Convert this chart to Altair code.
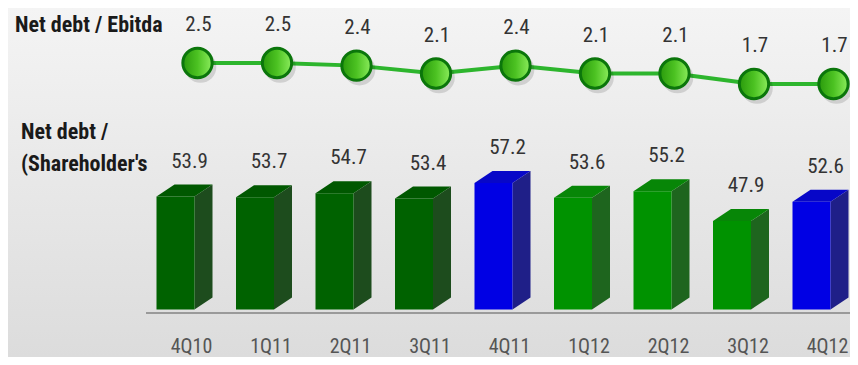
import altair as alt
import pandas as pd

# ---- data ----
categories = ["4Q10", "1Q11", "2Q11", "3Q11", "4Q11", "1Q12", "2Q12", "3Q12", "4Q12"]
net_debt_ebitda = [2.5, 2.5, 2.4, 2.1, 2.4, 2.1, 2.1, 1.7, 1.7]
net_debt_equity = [53.9, 53.7, 54.7, 53.4, 57.2, 53.6, 55.2, 47.9, 52.6]
bar_groups = ["a", "a", "a", "a", "b", "c", "c", "c", "b"]
titles = ["Net debt / Ebitda", "Net debt /", "(Shareholder's"]

# ---- geometry / style constants ----
W, H = 842, 349
X0 = 183.5
K = 79.5           # px per category
PXV = 4.1          # px per unit of the bar scale
BASE = 26.34       # bar scale floor
FL, FR, SR = -35 / K, 3 / K, 21 / K
DY = 12 / PXV
FONT = "Roboto Condensed, Open Sans Condensed, Liberation Sans Narrow, Roboto, sans-serif"

xs = alt.Scale(domain=[0, 8], range=[X0, X0 + 8 * K], nice=False, zero=False)
ybar = alt.Scale(domain=[BASE, 60], range=[301.5, 301.5 - (60 - BASE) * PXV], nice=False, zero=False)
yline = alt.Scale(domain=[1, 3], range=[55 + 1.5 * 26.25, 55 - 0.5 * 26.25], nice=False, zero=False)

grp_dom = ["a", "b", "c"]
front_cols = ["#006200", "#0000e4", "#009200"]
side_cols = ["#1d4c1d", "#1f1f88", "#1e651e"]
top_cols = ["#005800", "#0707c8", "#078607"]

idx = list(range(len(categories)))
df = pd.DataFrame({
    "cat": categories,
    "i": idx,
    "ratio": net_debt_ebitda,
    "nd": net_debt_equity,
    "grp": bar_groups,
})
df["fl"] = df["i"] + FL
df["fr"] = df["i"] + FR
df["base"] = BASE
df["lx"] = df["i"] + 6 / K
df["tx"] = df["i"] + 7 / K
df["bx"] = df["i"] - 2 / K
df["nd_txt"] = [f"{v:.1f}" for v in net_debt_equity]
df["r_txt"] = [f"{v:.1f}" for v in net_debt_ebitda]

side_rows, top_rows = [], []
for c, i, v, g in zip(categories, idx, net_debt_equity, bar_groups):
    side_rows.append({"c": c, "g": g, "x": i + FR, "y": v, "y2": BASE})
    side_rows.append({"c": c, "g": g, "x": i + SR, "y": v + DY, "y2": BASE + DY})
    top_rows.append({"c": c, "g": g, "y": v, "x": i + FL, "x2": i + FR})
    top_rows.append({"c": c, "g": g, "y": v + DY, "x": i + FL + (SR - FR), "x2": i + SR})
side_df = pd.DataFrame(side_rows)
top_df = pd.DataFrame(top_rows)

bg_df = pd.DataFrame({"a": [0]})
title_df = pd.DataFrame({"t": titles, "x": [7, 13, 13], "y": [17, 124, 156]})

# ---- layers ----
bg = alt.Chart(bg_df).mark_rect(
    color=alt.Gradient(gradient="linear", x1=0, y1=0, x2=0, y2=1,
                       stops=[alt.GradientStop(color="#f4f4f4", offset=0),
                              alt.GradientStop(color="#dcdcdc", offset=1)])
).encode(x=alt.value(0), x2=alt.value(W), y=alt.value(0), y2=alt.value(H))

axis_rule = alt.Chart(bg_df).mark_rule(color="#9a9a9a", strokeWidth=2).encode(
    x=alt.value(138), x2=alt.value(W), y=alt.value(305))

side = alt.Chart(side_df).mark_area(orient="vertical").encode(
    x=alt.X("x:Q", scale=xs, axis=None),
    y=alt.Y("y:Q", scale=ybar, axis=None),
    y2="y2:Q",
    detail="c:N",
    color=alt.Color("g:N", scale=alt.Scale(domain=grp_dom, range=side_cols), legend=None),
)

top = alt.Chart(top_df).mark_area(orient="horizontal").encode(
    y=alt.Y("y:Q", scale=ybar, axis=None),
    x=alt.X("x:Q", scale=xs, axis=None),
    x2="x2:Q",
    detail="c:N",
    color=alt.Color("g:N", scale=alt.Scale(domain=grp_dom, range=top_cols), legend=None),
)

front = alt.Chart(df).mark_rect().encode(
    x=alt.X("fl:Q", scale=xs, axis=None),
    x2="fr:Q",
    y=alt.Y("nd:Q", scale=ybar, axis=None),
    y2="base:Q",
    color=alt.Color("grp:N", scale=alt.Scale(domain=grp_dom, range=front_cols), legend=None),
)

bar_lbl = alt.Chart(df).mark_text(font=FONT, fontSize=21, color="#333333", baseline="middle", dy=-35).encode(
    x=alt.X("bx:Q", scale=xs, axis=None),
    y=alt.Y("nd:Q", scale=ybar, axis=None),
    text="nd_txt:N",
)

line = alt.Chart(df).mark_line(color="#2db52d", strokeWidth=4).encode(
    x=alt.X("lx:Q", scale=xs, axis=None),
    y=alt.Y("ratio:Q", scale=yline, axis=None),
)

shadow = alt.Chart(df).mark_point(shape="circle", filled=True, color="#000000", opacity=0.13,
                                  size=1000, xOffset=3, yOffset=4).encode(
    x=alt.X("lx:Q", scale=xs, axis=None),
    y=alt.Y("ratio:Q", scale=yline, axis=None),
)

dots = alt.Chart(df).mark_point(
    shape="circle", filled=True, opacity=1, size=860, stroke="#0b760b", strokeWidth=3,
    fill=alt.Gradient(gradient="linear", x1=0, y1=0, x2=1, y2=0,
                      stops=[alt.GradientStop(color="#2a9a0c", offset=0),
                             alt.GradientStop(color="#4cc222", offset=0.5),
                             alt.GradientStop(color="#8bec5c", offset=1)]),
).encode(
    x=alt.X("lx:Q", scale=xs, axis=None),
    y=alt.Y("ratio:Q", scale=yline, axis=None),
)

line_lbl = alt.Chart(df).mark_text(font=FONT, fontSize=21, color="#333333", baseline="middle", dy=-38).encode(
    x=alt.X("tx:Q", scale=xs, axis=None),
    y=alt.Y("ratio:Q", scale=yline, axis=None),
    text="r_txt:N",
)

x_lbl = alt.Chart(df).mark_text(font=FONT, fontSize=20, color="#555555", baseline="middle").encode(
    x=alt.X("i:Q", scale=xs, axis=None),
    y=alt.value(339),
    text="cat:N",
)

title_txt = alt.Chart(title_df).mark_text(font=FONT, fontSize=22, fontWeight="bold", color="#1a1a1a",
                                          align="left", baseline="middle").encode(
    x=alt.X("x:Q", scale=None, axis=None),
    y=alt.Y("y:Q", scale=None, axis=None),
    text="t:N",
)

chart = alt.layer(
    bg, axis_rule, side, top, front, bar_lbl, line, shadow, dots, line_lbl, x_lbl, title_txt
).resolve_scale(
    y="independent", color="independent", x="independent"
).properties(
    width=W, height=H, padding=0, autosize=alt.AutoSizeParams(type="none"),
).configure_view(stroke=None)

chart.save("out.html", embed_options={"renderer": "svg", "actions": False})
